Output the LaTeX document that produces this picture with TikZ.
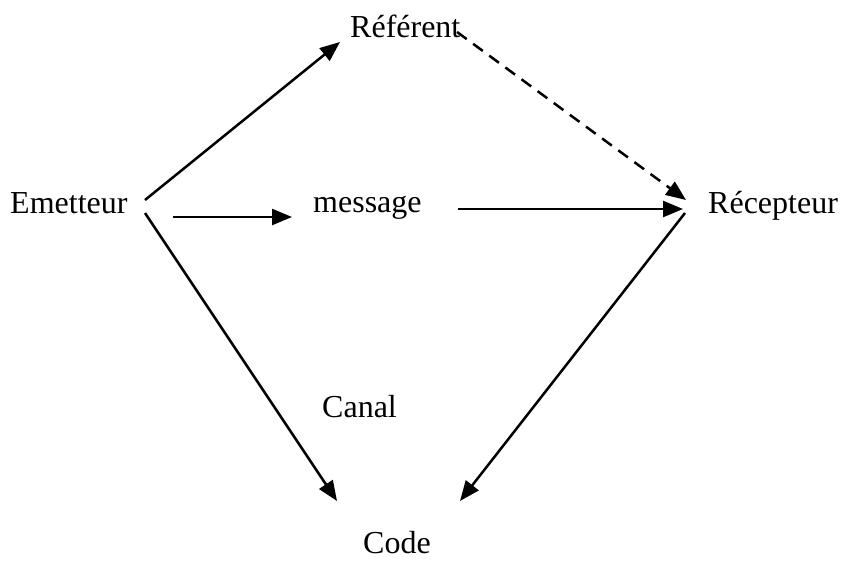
\documentclass[tikz,border=0pt]{standalone}
\usepackage{fontspec}
\setmainfont{Liberation Serif}
\usetikzlibrary{arrows.meta}
\begin{document}
\begin{tikzpicture}[x=1pt,y=-1pt,
  lbl/.style={anchor=base west,inner sep=0pt,font=\fontsize{32}{38}\selectfont},
  conn/.style={line width=2.5pt,-{Triangle[length=20pt,width=16pt]}},
  dconn/.style={conn,dash pattern=on 12pt off 8pt}]
\useasboundingbox (0,0) rectangle (843,562);
\node[lbl] (ref) at (350,37) {Référent};
\node[lbl] (em) at (10,213) {Emetteur};
\node[lbl] (msg) at (313,212) {message};
\node[lbl] (rec) at (708,213) {Récepteur};
\node[lbl] (can) at (322,417) {Canal};
\node[lbl] (code) at (363,553) {Code};
% endpoints
\coordinate (emA) at (145,200);
\coordinate (emB) at (173,217);
\coordinate (emC) at (145,213);
\coordinate (refA) at (340,42);
\coordinate (refB) at (457,32);
\coordinate (msgA) at (292,217);
\coordinate (msgB) at (458,209);
\coordinate (recA) at (686,200);
\coordinate (recB) at (683,209);
\coordinate (recC) at (685,213);
\coordinate (codeA) at (337,501);
\coordinate (codeB) at (460,501);
\draw[conn] (emA) -- (refA);
\draw[dconn] (refB) -- (recA);
\draw[conn] (emB) -- (msgA);
\draw[conn] (msgB) -- (recB);
\draw[conn] (emC) -- (codeA);
\draw[conn] (recC) -- (codeB);
\end{tikzpicture}
\end{document}
